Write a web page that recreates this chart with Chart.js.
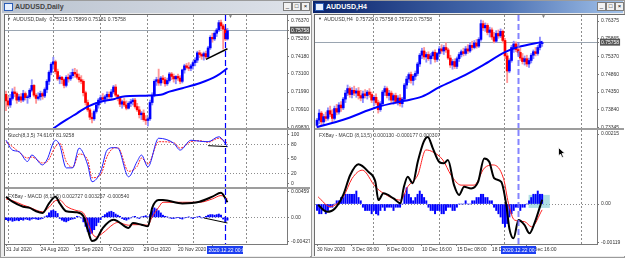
<!DOCTYPE html>
<html>
<head>
<meta charset="utf-8">
<title>AUDUSD Daily / H4</title>
<script src="https://cdn.jsdelivr.net/npm/chart.js@4.4.1/dist/chart.umd.min.js"></script>
<style>
  body { margin: 0; background: #d9d9d9; }
  #screen { position: relative; width: 625px; height: 258px; overflow: hidden; background: #d9d9d9; font-family: 'Liberation Sans', Arial, sans-serif; }
  .win { position: absolute; top: 0; height: 258px; box-sizing: border-box; background: #ececec; border: 1px solid #9b9b9b; }
  .bar { position: absolute; top: 1px; height: 12px; }
  .name { position: absolute; left: 13px; top: 2px; font-size: 7px; font-weight: bold; line-height: 8px; }
  .ico { position: absolute; left: 2px; top: 2px; width: 7px; height: 6px; border: 1px solid #2a5bb5; background: #e8f0ff; }
  .btn { position: absolute; top: 2px; width: 7px; height: 7px; border: 1px solid #7d7d7d; background: #f2f2f2; font-size: 6px; line-height: 7px; text-align: center; color: #000; }
  .paper { position: absolute; background: #fff; border-left: 1px solid #6d6d6d; border-top: 1px solid #6d6d6d; }
  .sep { position: absolute; height: 2px; background: #9d9d9d; }
  canvas { position: absolute; }
  .t { position: absolute; font-size: 5px; line-height: 6px; color: #3a3a3a; white-space: nowrap; }
</style>
</head>
<body>
<div id="screen">
  <!-- left window: daily -->
  <div class="win" style="left:0;width:311px"></div>
  <div class="bar" style="left:2px;width:307px;background:linear-gradient(to right,#b9c2cf,#dfe3ea)">
    <div class="ico"></div><div class="name" style="color:#444">AUDUSD,Daily</div>
  </div>
  <div class="btn" style="left:283px">_</div><div class="btn" style="left:292px">□</div><div class="btn" style="left:301px">×</div>
  <div class="paper" style="left:4px;top:14px;width:306px;height:241px"></div>
  <canvas id="dPrice" width="305" height="113" style="left:5px;top:15px"></canvas>
  <div class="sep" style="left:5px;top:128px;width:305px"></div>
  <canvas id="dStoch" width="305" height="57" style="left:5px;top:130px"></canvas>
  <div class="sep" style="left:5px;top:187px;width:305px"></div>
  <canvas id="dMacd" width="305" height="66" style="left:5px;top:189px"></canvas>

  <!-- right window: H4 -->
  <div class="win" style="left:311px;width:314px"></div>
  <div class="bar" style="left:313px;width:310px;background:linear-gradient(to right,#0b246b,#4a6fb2 60%,#a3c3ea)">
    <div class="ico"></div><div class="name" style="color:#fff">AUDUSD,H4</div>
  </div>
  <div class="btn" style="left:597px">_</div><div class="btn" style="left:606px">□</div><div class="btn" style="left:615px">×</div>
  <div class="paper" style="left:314px;top:14px;width:310px;height:241px"></div>
  <canvas id="hPrice" width="309" height="113" style="left:315px;top:15px"></canvas>
  <div class="sep" style="left:315px;top:128px;width:309px"></div>
  <canvas id="hMacd" width="309" height="125" style="left:315px;top:130px"></canvas>

  <!-- panel captions -->
  <div class="t" style="left:7px;top:16px;font-size:4px">▼</div>
  <div class="t" style="left:13px;top:16px">AUDUSD,Daily&nbsp; 0.75215 0.75899 0.75181 0.75758</div>
  <div class="t" style="left:228px;top:13px;color:#777">▼</div>
  <div class="t" style="left:8px;top:132px">Stoch(8,3,5) 74.6167 81.9258</div>
  <div class="t" style="left:8px;top:193px">FXBay - MACD (8,13,5) 0.002727 0.003267 -0.000540</div>
  <div class="t" style="left:318px;top:16px;font-size:4px">▼</div>
  <div class="t" style="left:324px;top:16px">AUDUSD,H4&nbsp; 0.75729 0.75758 0.75722 0.75758</div>
  <div class="t" style="left:541px;top:13px;color:#777">▼</div>
  <div class="t" style="left:319px;top:132px">FXBay - MACD (8,13,5) 0.000130 -0.000177 0.000307</div>
  <svg style="position:absolute;left:558px;top:147px" width="8" height="12"><path d="M0.5 0.5 L0.5 9 L2.5 7 L4 10.5 L5.5 10 L4 6.5 L7 6.5 Z" fill="#000" stroke="#fff" stroke-width="0.8"/></svg>
</div>

<script>
// ---------- AUDUSD Daily (31 Jul 2020 .. 23 Dec 2020) ----------
const dailyOpen = [
  .7185,.7145,.7120,.7160,.7200,.7190,.7150,.7170,.7150,.7190,
  .7165,.7170,.7210,.7240,.7180,.7160,.7170,.7190,.7175,.7215,
  .7265,.7320,.7370,.7385,.7325,.7280,.7290,.7275,.7240,.7290,
  .7280,.7300,.7320,.7310,.7290,.7275,.7265,.7195,.7135,.7090,
  .7045,.7035,.7080,.7120,.7150,.7165,.7155,.7170,.7185,.7170,
  .7200,.7230,.7180,.7160,.7125,.7140,.7120,.7100,.7130,.7140,
  .7150,.7110,.7090,.7060,.7070,.7030,.7025,.7035,.7135,.7180,
  .7265,.7275,.7255,.7285,.7275,.7250,.7270,.7310,.7295,.7280,
  .7295,.7285,.7265,.7335,.7360,.7350,.7345,.7360,.7380,.7395,
  .7440,.7430,.7420,.7435,.7415,.7470,.7535,.7525,.7560,.7580,
  .7625,.7605,.7585,.7525];
const dailyHigh = [
  .7205,.7170,.7185,.7220,.7230,.7200,.7185,.7190,.7210,.7200,
  .7180,.7220,.7275,.7245,.7190,.7195,.7205,.7200,.7225,.7275,
  .7330,.7380,.7413,.7395,.7340,.7300,.7295,.7280,.7300,.7310,
  .7320,.7340,.7345,.7335,.7310,.7300,.7275,.7205,.7150,.7100,
  .7070,.7090,.7135,.7160,.7180,.7190,.7180,.7200,.7200,.7215,
  .7240,.7245,.7185,.7170,.7150,.7160,.7145,.7140,.7155,.7160,
  .7160,.7130,.7110,.7080,.7090,.7055,.7045,.7150,.7195,.7275,
  .7290,.7340,.7295,.7300,.7290,.7285,.7320,.7320,.7310,.7300,
  .7310,.7300,.7340,.7370,.7375,.7380,.7370,.7390,.7410,.7450,
  .7455,.7440,.7445,.7450,.7480,.7545,.7560,.7570,.7590,.7639,
  .7640,.7615,.7595,.7590];
const dailyLow = [
  .7085,.7110,.7105,.7150,.7170,.7130,.7140,.7135,.7140,.7150,
  .7130,.7160,.7200,.7170,.7130,.7150,.7150,.7155,.7165,.7195,
  .7245,.7305,.7340,.7310,.7270,.7250,.7250,.7225,.7230,.7260,
  .7270,.7285,.7290,.7280,.7260,.7250,.7175,.7120,.7080,.7030,
  .7010,.7025,.7070,.7100,.7130,.7140,.7130,.7150,.7150,.7160,
  .7190,.7170,.7145,.7110,.7100,.7110,.7090,.7095,.7110,.7120,
  .7100,.7080,.7040,.7030,.7020,.7000,.6991,.7025,.7120,.7170,
  .7240,.7240,.7240,.7255,.7235,.7240,.7260,.7275,.7260,.7250,
  .7270,.7250,.7255,.7315,.7340,.7330,.7330,.7340,.7360,.7380,
  .7410,.7400,.7395,.7405,.7410,.7460,.7505,.7515,.7540,.7570,
  .7585,.7463,.7515,.7518];
const dailyClose = [
  .7145,.7120,.7160,.7200,.7190,.7150,.7170,.7150,.7190,.7165,
  .7170,.7210,.7240,.7180,.7160,.7170,.7190,.7175,.7215,.7265,
  .7320,.7370,.7385,.7325,.7280,.7290,.7275,.7240,.7290,.7280,
  .7300,.7320,.7310,.7290,.7275,.7265,.7195,.7135,.7090,.7045,
  .7035,.7080,.7120,.7150,.7165,.7155,.7170,.7185,.7170,.7200,
  .7230,.7180,.7160,.7125,.7140,.7120,.7100,.7130,.7140,.7150,
  .7110,.7090,.7060,.7070,.7030,.7025,.7035,.7135,.7180,.7265,
  .7275,.7255,.7285,.7275,.7250,.7270,.7310,.7295,.7280,.7295,
  .7285,.7265,.7335,.7360,.7350,.7345,.7360,.7380,.7395,.7440,
  .7430,.7420,.7435,.7415,.7470,.7535,.7525,.7560,.7580,.7625,
  .7605,.7585,.7525,.7576];
const dailyMaX = [22, 28, 33, 38, 44, 50, 54, 65, 72, 76, 82, 90, 98, 103];
const dailyMaY = [.6977, .7028, .7069, .7110, .7140, .7155, .7171, .7177, .7182, .7202, .7223, .7253, .7298, .7345];
const dailyTrendX = [93, 103];
const dailyTrendY = [.7400, .7465];

const stochX = [0, 3, 6, 10, 12, 17, 19, 23, 25, 28, 31, 34, 38, 40, 44, 47, 50, 52, 57, 61, 63, 66, 71, 78, 81, 86, 90, 94, 99, 103];
const stochMain = [88, 68, 65, 45, 58, 38, 48, 88, 78, 32, 32, 72, 38, 4, 24, 68, 73, 72, 14, 45, 58, 34, 92, 82, 68, 88, 86, 85, 95, 75];
const stochSignal = [85, 75, 64, 52, 54, 42, 44, 75, 82, 45, 33, 60, 48, 12, 18, 55, 72, 73, 25, 35, 52, 40, 85, 83, 72, 85, 87, 84, 92, 82];
const stochTrendX = [94, 103];
const stochTrendY = [77, 75];

const dMacdX = [0, 3, 8, 11, 14, 17, 20, 23, 25, 28, 33, 36, 38, 40, 42, 45, 50, 52, 57, 59, 63, 66, 68, 71, 73, 82, 90, 96, 100, 103];
const dMacdMain = [.0037, .0028, .0019, .0017, .0011, .0008, .0025, .0037, .0025, .0011, .0009, .0002, -.0022, -.0042, -.0039, -.0019, -.0004, -.0007, -.0019, -.0010, -.0013, -.0016, .0017, .0031, .0031, .0025, .0028, .0037, .0044, .0027];
const dMacdSignal = [.0033, .0030, .0022, .0018, .0013, .0010, .0018, .0030, .0031, .0020, .0012, .0008, -.0008, -.0028, -.0035, -.0028, -.0012, -.0009, -.0014, -.0013, -.0013, -.0014, .0001, .0018, .0027, .0027, .0027, .0033, .0039, .0033];
const dMacdHist = [
  -.0004,-.0006,-.0005,-.0007,-.0006,-.0005,-.0006,-.0004,-.0005,-.0003,-.0004,-.0005,-.0003,-.0002,-.0003,-.0004,
  -.0003,-.0002,.0001,.0003,
  .0008,.0012,.0013,.0011,.0007,
  -.0002,-.0005,-.0007,-.0008,-.0006,-.0004,-.0003,-.0002,
  .0002,.0001,-.0001,
  -.0008,-.0016,-.0025,-.0030,-.0028,-.0022,-.0015,-.0009,-.0004,
  .0002,.0005,.0008,.0010,.0011,.0009,.0006,.0004,.0002,
  -.0002,-.0004,-.0005,-.0003,-.0001,.0001,.0002,-.0001,-.0002,.0001,
  .0002,.0003,.0001,.0005,
  .0012,.0017,.0015,.0012,.0008,
  .0004,.0002,.0001,
  -.0001,-.0002,-.0002,-.0001,0,-.0002,-.0003,-.0001,0,.0001,-.0001,-.0002,0,.0001,.0002,-.0001,0,.0002,
  .0004,.0005,.0005,.0004,.0005,.0006,.0004,
  -.0003,-.0008,-.0005];
const dMacdTrendX = [92, 103];
const dMacdTrendY = [-.0001, -.0010];

const dailyPriceTicks = [0.6983, 0.7091, 0.7199, 0.7310, 0.7418, 0.7526, 0.7637];
const stochTicks = [0, 20, 50, 80, 100];
const stochLevels = [20, 80];
const dMacdTicks = [-0.00427, 0, 0.00459];
const dailyGridIdx = [1, 22, 44, 66, 87, 112];
const dailyTimeIdx = [0, 16, 32, 48, 64, 80, 96];
const dailyTimeLabels = ['31 Jul 2020', '24 Aug 2020', '15 Sep 2020', '7 Oct 2020', '29 Oct 2020', '20 Nov 2020', '14 Dec 2020'];
const dailyMarkIdx = 102;

// ---------- AUDUSD H4 (30 Nov 2020 .. 23 Dec 2020) ----------
const h4Open = [
  .7340,.7355,.7375,.7350,.7365,.7360,.7382,.7372,.7360,.7388,
  .7378,.7398,.7390,.7415,.7432,.7445,.7428,.7440,.7432,.7438,
  .7425,.7418,.7430,.7425,.7435,.7428,.7412,.7420,.7405,.7385,
  .7402,.7435,.7445,.7425,.7432,.7412,.7425,.7408,.7418,.7402,
  .7415,.7455,.7472,.7485,.7468,.7480,.7488,.7515,.7540,.7552,
  .7535,.7542,.7530,.7538,.7548,.7528,.7545,.7558,.7552,.7562,
  .7555,.7532,.7512,.7522,.7508,.7530,.7542,.7550,.7545,.7558,
  .7552,.7568,.7562,.7575,.7566,.7585,.7630,.7618,.7625,.7605,
  .7612,.7592,.7580,.7602,.7595,.7608,.7582,.7538,.7495,.7525,
  .7562,.7572,.7556,.7548,.7532,.7522,.7530,.7515,.7525,.7540,
  .7550,.7545,.7562,.7573];
const h4High = [
  .7360,.7385,.7380,.7372,.7378,.7390,.7395,.7385,.7395,.7400,
  .7405,.7408,.7420,.7440,.7455,.7450,.7448,.7452,.7445,.7448,
  .7440,.7438,.7442,.7440,.7445,.7435,.7425,.7430,.7412,.7408,
  .7440,.7452,.7450,.7440,.7438,.7430,.7432,.7425,.7428,.7420,
  .7460,.7480,.7490,.7492,.7485,.7495,.7520,.7545,.7560,.7562,
  .7548,.7550,.7545,.7552,.7555,.7548,.7565,.7570,.7568,.7575,
  .7560,.7540,.7528,.7530,.7535,.7548,.7555,.7560,.7565,.7570,
  .7575,.7580,.7582,.7585,.7590,.7640,.7638,.7632,.7630,.7620,
  .7618,.7605,.7610,.7612,.7615,.7612,.7588,.7545,.7530,.7568,
  .7580,.7578,.7570,.7560,.7545,.7538,.7540,.7532,.7545,.7555,
  .7562,.7568,.7592,.7580];
const h4Low = [
  .7335,.7345,.7340,.7342,.7352,.7355,.7365,.7350,.7355,.7370,
  .7372,.7380,.7385,.7405,.7425,.7420,.7418,.7425,.7420,.7415,
  .7410,.7405,.7418,.7415,.7420,.7405,.7395,.7400,.7375,.7380,
  .7398,.7425,.7418,.7412,.7405,.7400,.7402,.7398,.7395,.7392,
  .7410,.7445,.7462,.7460,.7455,.7470,.7482,.7508,.7530,.7528,
  .7520,.7525,.7515,.7530,.7520,.7522,.7540,.7545,.7542,.7548,
  .7528,.7505,.7500,.7502,.7502,.7522,.7535,.7538,.7540,.7545,
  .7548,.7555,.7558,.7560,.7562,.7580,.7610,.7608,.7598,.7592,
  .7585,.7575,.7576,.7588,.7590,.7575,.7530,.7462,.7490,.7520,
  .7548,.7550,.7540,.7525,.7515,.7512,.7508,.7505,.7518,.7530,
  .7538,.7540,.7555,.7565];
const h4Close = [
  .7355,.7375,.7350,.7365,.7360,.7382,.7372,.7360,.7388,.7378,
  .7398,.7390,.7415,.7432,.7445,.7428,.7440,.7432,.7438,.7425,
  .7418,.7430,.7425,.7435,.7428,.7412,.7420,.7405,.7385,.7402,
  .7435,.7445,.7425,.7432,.7412,.7425,.7408,.7418,.7402,.7415,
  .7455,.7472,.7485,.7468,.7480,.7488,.7515,.7540,.7552,.7535,
  .7542,.7530,.7538,.7548,.7528,.7545,.7558,.7552,.7562,.7555,
  .7532,.7512,.7522,.7508,.7530,.7542,.7550,.7545,.7558,.7552,
  .7568,.7562,.7575,.7566,.7585,.7630,.7618,.7625,.7605,.7612,
  .7592,.7580,.7602,.7595,.7608,.7582,.7538,.7495,.7525,.7562,
  .7572,.7556,.7548,.7532,.7522,.7530,.7515,.7525,.7540,.7550,
  .7545,.7562,.7573,.7576];
const h4MaX = [0, 12, 28, 40, 48, 56, 66, 76, 86, 92, 103];
const h4MaY = [.7335, .7356, .7393, .7410, .7422, .7449, .7478, .7512, .7549, .7563, .7578];

const hMacdX = [0.5, 4.6, 8.3, 12, 15.2, 18.9, 23.5, 26.7, 28.1, 30.4, 35, 38.2, 39.6, 41.5, 43.8, 46.1, 48.8, 50.7, 53, 55.8,
  58.1, 59.9, 62.7, 65, 67.3, 70.5, 73.7, 76.5, 78.8, 81.1, 84.3, 86.6, 88, 89.9, 92.2, 94.9, 97.2, 99.5, 103];
const hMacdMain = [-.00003, -.00024, -.00013, .00028, .00089, .00122, .00099, .00068, .00012, .00033, .00017, .00002, .00048, .00084, .00064, .0013, .00191, .00206, .00171, .0013,
  .00125, .00135, .00058, .00028, .00053, .00048, .00068, .0014, .0013, .00079, .00068, -.00003, -.00075, -.00105, -.00049, -.00064, -.0009, -.00059, .00013];
const hSignalX = [0.5, 6, 12, 16.1, 20.7, 26.7, 30.4, 38.2, 41.5, 46.1, 49.8, 53, 57.6, 61.3, 65.9, 71.9, 76.5, 80.6, 85.3, 87.6, 90.3, 94.9, 98.2, 103];
const hMacdSignal = [.00022, -.00008, .00022, .00079, .00104, .00053, .00033, .00012, .00053, .00089, .00166, .0016, .00135, .00089, .00058, .00058, .0011, .0012, .00079, .00002, -.00049, -.00054, -.0007, -.00018];
const hMacdHist = [
  -.0002,-.0003,-.0003,-.0002,-.0003,-.0002,-.0001,
  -.0001,0,.0001,.0001,.0002,
  .0002,.0003,.0003,.0003,.0003,.0003,.0004,.0002,.0001,
  -.0001,-.0002,-.0002,-.0002,-.0003,-.0002,-.0003,-.00034,
  -.0002,-.0001,-.0002,-.0001,-.0001,-.0001,-.0002,-.0001,-.0001,-.0001,
  0,.0003,.0005,.0003,.0002,.0001,.0002,.0003,.0004,
  .0003,.0002,.0001,
  -.0001,-.0002,-.0002,-.0003,-.0002,-.0002,-.0003,-.0003,-.0002,-.0001,-.0001,-.0002,-.0002,
  -.0001,0,0,0,.0001,0,0,.0001,
  .0001,.0002,.0002,.0003,.0003,.0002,.0002,.0001,.0001,
  -.0001,-.0002,-.0003,-.0004,-.0006,-.0007,-.0006,-.0004,-.0003,-.0002,
  -.0001,-.0001,-.0002,-.0001,-.0001,0,.0001,
  .0002,.0003,.0003,.0004,.0003,.0003];

const h4PriceTicks = [0.73345, 0.73840, 0.74350, 0.74860, 0.75370, 0.75865, 0.76375];
const hMacdTicks = [-0.00119, 0, 0.00215];
const h4GridIdx = [26, 56, 86, 121];
const h4TimeIdx = [0, 16, 32, 48, 64, 80, 96];
const h4TimeLabels = ['30 Nov 2020', '3 Dec 08:00', '8 Dec 00:00', '10 Dec 16:00', '15 Dec 08:00', '18 Dec 00:00', '22 Dec 16:00'];
const h4MarkIdx = 92;
const h4Zone = {x0: 96.8, x1: 106.5, y0: -0.00012, y1: 0.00028};

const bidPrice = 0.75758;
const markText = '2020.12.22 00:00';

// ---------- helpers ----------
Chart.defaults.font.family = "'Liberation Sans', Arial, sans-serif";
Chart.defaults.font.size = 5;
Chart.defaults.color = '#333';

const overlays = {
  id: 'overlays',
  beforeDatasetsDraw(chart, args, o) {
    if (!o.zone) return;
    const {ctx, scales: {x, y}} = chart;
    const x0 = x.getPixelForValue(o.zone.x0), x1 = x.getPixelForValue(o.zone.x1);
    const y0 = y.getPixelForValue(o.zone.y1), y1 = y.getPixelForValue(o.zone.y0);
    ctx.save();
    ctx.fillStyle = 'rgba(110, 195, 205, 0.55)';
    ctx.fillRect(x0, y0, x1 - x0, y1 - y0);
    ctx.restore();
  },
  afterDatasetsDraw(chart, args, o) {
    if (o.markX == null) return;
    const {ctx, chartArea: a, scales: {x}} = chart;
    const px = Math.round(x.getPixelForValue(o.markX)) + 0.5;
    ctx.save();
    ctx.strokeStyle = o.markColor;
    ctx.lineWidth = o.markWidth;
    ctx.setLineDash([6, 3]);
    ctx.beginPath();
    ctx.moveTo(px, a.top);
    ctx.lineTo(px, a.bottom);
    ctx.stroke();
    ctx.restore();
  },
  afterDraw(chart, args, o) {
    if (!o.markLabel) return;
    const {ctx, chartArea: a, scales: {x}} = chart;
    const px = x.getPixelForValue(o.markX);
    const left = Math.round(px - o.boxW / 2), top = a.bottom + 2;
    ctx.save();
    ctx.fillStyle = '#1d3ff0';
    ctx.fillRect(left, top, o.boxW, 8);
    ctx.beginPath();
    ctx.rect(left, top, o.boxW, 8);
    ctx.clip();
    ctx.fillStyle = '#fff';
    ctx.font = "5px 'Liberation Sans', Arial, sans-serif";
    ctx.textBaseline = 'middle';
    ctx.fillText(o.markLabel, left + 1.5, top + 4.5);
    ctx.restore();
  }
};
Chart.register(overlays);

function pts(xs, ys) { return xs.map((x, k) => ({x: x, y: ys[k]})); }

function candles(o, h, l, c) {
  const up = o.map((v, i) => c[i] >= v);
  return [
    {type: 'bar', data: h.map((v, i) => ({x: i, y: [l[i], v]})), backgroundColor: up.map(u => u ? '#8c8cff' : '#ff9696'),
     barThickness: 1.2, grouped: false, order: 3},
    {type: 'bar', data: o.map((v, i) => ({x: i, y: [v, c[i]]})), backgroundColor: up.map(u => u ? '#0000ff' : '#ff0000'),
     barThickness: 2, grouped: false, order: 2}
  ];
}

function line(xs, ys, color, width, dash) {
  return {type: 'line', data: pts(xs, ys), borderColor: color, borderWidth: width, borderDash: dash || [],
          pointRadius: 0, cubicInterpolationMode: 'monotone', order: 0};
}

function xGrid(min, max, idx) {
  return {
    type: 'linear', min: min, max: max, bounds: 'data', offset: false, position: 'bottom',
    afterBuildTicks: ax => { ax.ticks = idx.map(v => ({value: v})); },
    afterFit: ax => { ax.height = 0; ax.paddingLeft = 0; ax.paddingRight = 0; },
    ticks: {display: false},
    grid: {color: '#8c8c8c', drawTicks: false, offset: false},
    border: {display: false, dash: [2, 2]}
  };
}

function xTime(min, max, idx, labels) {
  return {
    type: 'linear', min: min, max: max, bounds: 'data', offset: false, position: 'bottom',
    afterBuildTicks: ax => { ax.ticks = idx.map(v => ({value: v})); },
    afterFit: ax => { ax.height = 11; ax.paddingLeft = 0; ax.paddingRight = 0; },
    ticks: {autoSkip: false, maxRotation: 0, minRotation: 0, align: 'start', padding: 1, color: '#333',
            callback: v => labels[idx.indexOf(v)]},
    grid: {drawOnChartArea: false, drawTicks: true, tickLength: 2, tickColor: '#777', offset: false},
    border: {display: true, color: '#7a7a7a'}
  };
}

function yAxis(min, max, ticks, width, fmt, levels, hi) {
  const isHi = c => hi != null && c.tick && c.tick.value === hi;
  return {
    type: 'linear', position: 'right', min: min, max: max, bounds: 'data', beginAtZero: false,
    afterBuildTicks: ax => { ax.ticks = ticks.concat(hi != null ? [hi] : []).map(v => ({value: v})); },
    afterFit: ax => { ax.width = width; ax.paddingTop = 0; ax.paddingBottom = 0; },
    ticks: {
      autoSkip: false, padding: 2, callback: fmt,
      color: c => isHi(c) ? '#ffffff' : '#333',
      showLabelBackdrop: c => isHi(c),
      backdropColor: '#555', backdropPadding: {top: 1, bottom: 0, left: 1, right: 1}
    },
    grid: {
      color: c => isHi(c) ? '#9aa5b1' : (c.tick && levels.includes(c.tick.value)) ? '#8c8c8c' : 'rgba(0,0,0,0)',
      drawTicks: true, tickLength: 2, tickColor: '#777'
    },
    border: {display: true, color: '#7a7a7a', dash: c => isHi(c) ? [] : [1, 2]}
  };
}

function base(datasets, scales, plug) {
  return {
    type: 'bar',
    data: {datasets: datasets},
    options: {
      responsive: false, animation: false, devicePixelRatio: 1,
      layout: {padding: 0},
      scales: scales,
      plugins: Object.assign({legend: {display: false}, tooltip: {enabled: false}}, {overlays: plug})
    }
  };
}

const priceFmt = v => v.toFixed(5);
const macdFmt = v => v === 0 ? '0.00' : v.toFixed(5);

// ---------- daily charts ----------
const dX = [-0.47, 130.7];
new Chart(document.getElementById('dPrice'), base(
  [line(dailyMaX, dailyMaY, '#0000ff', 2),
   line(dailyTrendX, dailyTrendY, '#000000', 1.5)].concat(candles(dailyOpen, dailyHigh, dailyLow, dailyClose)),
  {x: xGrid(dX[0], dX[1], dailyGridIdx), y: yAxis(0.69787, 0.76719, dailyPriceTicks, 23, priceFmt, [], bidPrice)},
  {markX: dailyMarkIdx, markColor: '#0000ff', markWidth: 1.2}
));

new Chart(document.getElementById('dStoch'), base(
  [line(stochX, stochMain, '#2020ff', 1),
   line(stochX, stochSignal, '#ff2020', 1, [2, 1]),
   line(stochTrendX, stochTrendY, '#000000', 1)],
  {x: xGrid(dX[0], dX[1], dailyGridIdx), y: yAxis(-6.7, 108.7, stochTicks, 23, v => String(v), stochLevels, null)},
  {markX: dailyMarkIdx, markColor: '#0000ff', markWidth: 1.2}
));

new Chart(document.getElementById('dMacd'), base(
  [line(dMacdX, dMacdMain, '#000000', 2),
   line(dMacdX, dMacdSignal, '#ff2020', 1),
   line(dMacdTrendX, dMacdTrendY, '#000000', 1),
   {type: 'bar', data: dMacdHist.map((v, i) => ({x: i, y: v})), backgroundColor: '#0000ff', barThickness: 1.3, grouped: false, order: 3}],
  {x: xGrid(dX[0], dX[1], dailyGridIdx), xt: xTime(dX[0], dX[1], dailyTimeIdx, dailyTimeLabels),
   y: yAxis(-0.00475, 0.00507, dMacdTicks, 23, macdFmt, [0], null)},
  {markX: dailyMarkIdx, markColor: '#0000ff', markWidth: 1.2, markLabel: markText, boxW: 36}
));

// ---------- H4 charts ----------
const hX = [-0.92, 128.1];
new Chart(document.getElementById('hPrice'), base(
  [line(h4MaX, h4MaY, '#0000ff', 2)].concat(candles(h4Open, h4High, h4Low, h4Close)),
  {x: xGrid(hX[0], hX[1], h4GridIdx), y: yAxis(0.73326, 0.76546, h4PriceTicks, 27, priceFmt, [], bidPrice)},
  {markX: h4MarkIdx, markColor: 'rgba(110, 110, 255, 0.85)', markWidth: 2}
));

new Chart(document.getElementById('hMacd'), base(
  [line(hMacdX, hMacdMain, '#000000', 2),
   line(hSignalX, hMacdSignal, '#ff2020', 1),
   {type: 'bar', data: hMacdHist.map((v, i) => ({x: i, y: v})), backgroundColor: '#0000ff', barThickness: 1.3, grouped: false, order: 3}],
  {x: xGrid(hX[0], hX[1], h4GridIdx), xt: xTime(hX[0], hX[1], h4TimeIdx, h4TimeLabels),
   y: yAxis(-0.001228, 0.002273, hMacdTicks, 27, macdFmt, [0], null)},
  {markX: h4MarkIdx, markColor: 'rgba(110, 110, 255, 0.85)', markWidth: 2, markLabel: markText, boxW: 35, zone: h4Zone}
));
</script>
</body>
</html>
